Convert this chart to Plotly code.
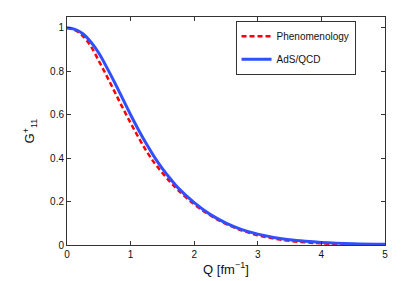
import plotly.graph_objects as go

Q = [0, 0.125, 0.25, 0.375, 0.5, 0.625, 0.75, 0.875, 1.0, 1.125, 1.25, 1.375,
     1.5, 1.625, 1.75, 2.0, 2.25, 2.5, 2.75, 3.0, 3.25, 3.5, 3.75, 4.0, 4.5, 5.0]
phenomenology = [1.0, 0.990, 0.962, 0.915, 0.848, 0.778, 0.705, 0.632, 0.562,
                 0.495, 0.432, 0.378, 0.332, 0.290, 0.252, 0.188, 0.137, 0.097,
                 0.067, 0.045, 0.030, 0.019, 0.012, 0.0075, 0.003, 0.001]
ads_qcd = [1.0, 0.993, 0.973, 0.935, 0.884, 0.818, 0.748, 0.674, 0.600,
           0.530, 0.465, 0.405, 0.352, 0.305, 0.262, 0.195, 0.141, 0.101,
           0.071, 0.050, 0.035, 0.024, 0.017, 0.012, 0.006, 0.003]

x_ticks = [0, 1, 2, 3, 4, 5]
y_ticks = [0, 0.2, 0.4, 0.6, 0.8, 1]
y_tick_labels = ["0", "0.2", "0.4", "0.6", "0.8", "1"]

FONT = "Liberation Sans, Arial, Helvetica"

fig = go.Figure()
fig.add_trace(go.Scatter(x=Q, y=phenomenology, mode="lines", name="Phenomenology",
                         line=dict(color="#ff0000", width=2.5, dash="5px,3px", shape="spline"),
                         legendgroup="a"))
fig.add_trace(go.Scatter(x=Q, y=ads_qcd, mode="lines", name="AdS/QCD",
                         line=dict(color="#3050ff", width=3, shape="spline"),
                         legendgroup="b"))

axis_common = dict(showline=True, linecolor="#333333", linewidth=1, mirror="allticks",
                   ticks="inside", ticklen=4, tickcolor="#333333", showgrid=False,
                   zeroline=False, automargin=False,
                   tickfont=dict(family=FONT, size=10, color="#111"))

fig.update_layout(
    width=409, height=281,
    margin=dict(l=67, r=24, t=17, b=36),
    plot_bgcolor="white", paper_bgcolor="white",
    xaxis=dict(range=[0, 5], tickvals=x_ticks,
               title=dict(text="Q [fm<sup>\u22121</sup>]", standoff=5,
                          font=dict(family=FONT, size=13, color="#111")),
               **axis_common),
    yaxis=dict(range=[0, 1.05], tickvals=y_ticks, ticktext=y_tick_labels,
               title=dict(text="G<sup>+</sup><sub>11</sub>", standoff=12,
                          font=dict(family=FONT, size=13, color="#111")),
               **axis_common),
    legend=dict(x=0.53, y=0.984, xanchor="left", yanchor="top",
                bordercolor="#333333", borderwidth=1, bgcolor="white",
                font=dict(family=FONT, size=10, color="#111"),
                tracegroupgap=4, entrywidth=114),
    showlegend=True,
)

fig.write_html("out.html", config={"displayModeBar": False},
               post_script="document.body.style.margin='0';document.body.style.padding='0';")
